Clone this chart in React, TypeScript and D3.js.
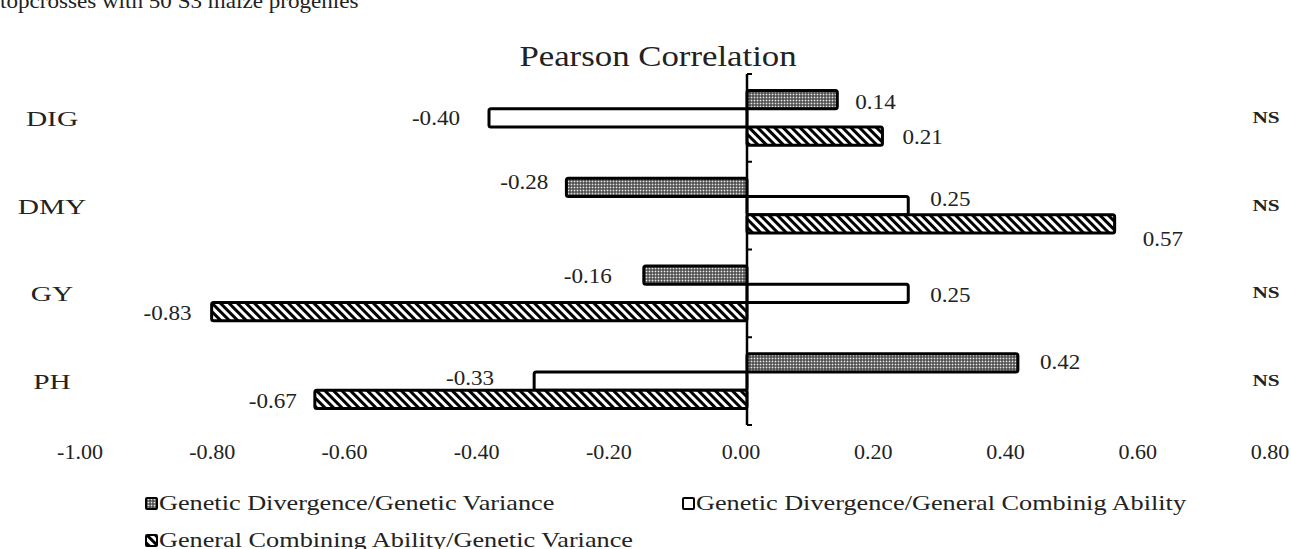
import React from "react";
import * as d3 from "d3";

const categories = ["DIG", "DMY", "GY", "PH"];
const seriesNames = [
  "Genetic Divergence/Genetic Variance",
  "Genetic Divergence/General Combinig Ability",
  "General Combining Ability/Genetic Variance",
];
const gdgv = [0.14, -0.28, -0.16, 0.42];
const gdgca = [-0.4, 0.25, 0.25, -0.33];
const gcagv = [0.21, 0.57, -0.83, -0.67];
const significance = ["NS", "NS", "NS", "NS"];
const xTicks = [-1, -0.8, -0.6, -0.4, -0.2, 0, 0.2, 0.4, 0.6, 0.8];

// label offsets [dx, dy] relative to bar end / bar centre (layout only)
const labelOffsets: [number, number][][] = [
  [[18, 2], [-29, 0], [20, 1]],
  [[-18, -5], [22, -7], [28, 15]],
  [[-32, 1], [22, 2], [-20, 1]],
  [[22, -1], [-40, -3], [-18, 2]],
];

const W = 1291;
const H = 549;
const FONT = "'Liberation Serif', 'Times New Roman', serif";
const fmt = (v: number) => d3.format(".2f")(v).replace("\u2212", "-");

function T(props: {
  x: number;
  y: number;
  sx: number;
  size: number;
  anchor?: string;
  weight?: string;
  children: React.ReactNode;
}) {
  const { x, y, sx, size, anchor = "start", weight = "normal", children } = props;
  return (
    <text
      transform={`translate(${x},${y}) scale(${sx},1)`}
      fontSize={size}
      textAnchor={anchor}
      fontWeight={weight}
      fill="#222"
    >
      {children}
    </text>
  );
}

export default function App() {
  const series = [gdgv, gdgca, gcagv];
  const fills = ["url(#dots)", "#ffffff", "url(#hatch)"];
  const x = d3.scaleLinear().domain([-1, 0.8]).range([102, 1263]);
  // tick labels are laid out slightly wider than the plotting scale
  const xLabel = d3.scaleLinear().domain([-1, 0.8]).range([80, 1270]);
  const y = d3
    .scaleBand<string>()
    .domain(categories)
    .range([74, 425])
    .paddingInner(0.376)
    .paddingOuter(0.188);
  const sub = d3
    .scaleBand<number>()
    .domain([0, 1, 2])
    .range([0, y.bandwidth()]);
  const step = y.step();
  const boundaries = d3.range(categories.length + 1).map((i) => 74 + i * step);
  const x0 = x(0);

  return (
    <svg
      width={W}
      height={H}
      style={{ position: "absolute", left: 0, top: 0, background: "#fff" }}
      fontFamily={FONT}
    >
      <defs>
        <pattern id="dots" width="3" height="3" patternUnits="userSpaceOnUse">
          <rect width="3" height="3" fill="#3a3a3a" />
          <rect x="0.6" y="0.6" width="1.8" height="1.8" fill="#e8e8e8" />
        </pattern>
        <pattern
          id="hatch"
          width="6"
          height="6"
          patternUnits="userSpaceOnUse"
          patternTransform="rotate(-45)"
        >
          <rect width="6" height="6" fill="#ffffff" />
          <rect width="3" height="6" fill="#000000" />
        </pattern>
      </defs>

      <T x={0} y={8} sx={1.1} size={21}>
        topcrosses with 50 S3 maize progenies
      </T>

      <T x={658} y={66} sx={1.2} size={29} anchor="middle">
        Pearson Correlation
      </T>

      {/* bars */}
      {categories.map((c, ci) =>
        series.map((s, si) => {
          const v = s[ci];
          const by = (y(c) as number) + (sub(si) as number);
          const bh = sub.bandwidth();
          const xa = Math.min(x(v), x0);
          const xb = Math.max(x(v), x0);
          return (
            <rect
              key={`${c}-${si}`}
              x={xa}
              y={by}
              width={xb - xa}
              height={bh}
              fill={fills[si]}
              stroke="#000"
              strokeWidth={3}
              rx={2}
            />
          );
        })
      )}

      {/* zero axis */}
      <line x1={x0} x2={x0} y1={boundaries[0]} y2={boundaries[boundaries.length - 1]} stroke="#000" strokeWidth={2.5} />
      {boundaries.map((b, i) => (
        <line key={i} x1={x0} x2={x0 + 5} y1={b} y2={b} stroke="#000" strokeWidth={2} />
      ))}

      {/* data labels */}
      {categories.map((c, ci) =>
        series.map((s, si) => {
          const v = s[ci];
          const cy = (y(c) as number) + (sub(si) as number) + sub.bandwidth() / 2;
          const [dx, dy] = labelOffsets[ci][si];
          const anchor = dx >= 0 ? "start" : "end";
          return (
            <T key={`l-${c}-${si}`} x={x(v) + dx} y={cy + dy + 7} sx={1.1} size={21} anchor={anchor}>
              {fmt(v)}
            </T>
          );
        })
      )}

      {/* category labels */}
      {categories.map((c) => (
        <T key={`c-${c}`} x={52} y={(y(c) as number) + y.bandwidth() / 2 + 8} sx={1.4} size={21} anchor="middle">
          {c}
        </T>
      ))}

      {/* NS labels */}
      {categories.map((c, ci) => (
        <T key={`ns-${c}`} x={1266} y={(y(c) as number) + y.bandwidth() / 2 + 5} sx={1.25} size={17} anchor="middle" weight="bold">
          {significance[ci]}
        </T>
      ))}

      {/* x tick labels */}
      {xTicks.map((t) => (
        <T key={`t-${t}`} x={xLabel(t)} y={459} sx={1.05} size={21} anchor="middle">
          {fmt(t)}
        </T>
      ))}

      {/* legend */}
      {[
        { i: 0, lx: 146, ly: 498 },
        { i: 1, lx: 683, ly: 498 },
        { i: 2, lx: 146, ly: 535 },
      ].map(({ i, lx, ly }) => (
        <g key={`lg-${i}`}>
          <rect x={lx} y={ly} width={11} height={11} fill={fills[i]} stroke="#000" strokeWidth={2} rx={1} />
          <T x={lx + 13} y={ly + 12} sx={1.25} size={21}>
            {seriesNames[i]}
          </T>
        </g>
      ))}
    </svg>
  );
}
